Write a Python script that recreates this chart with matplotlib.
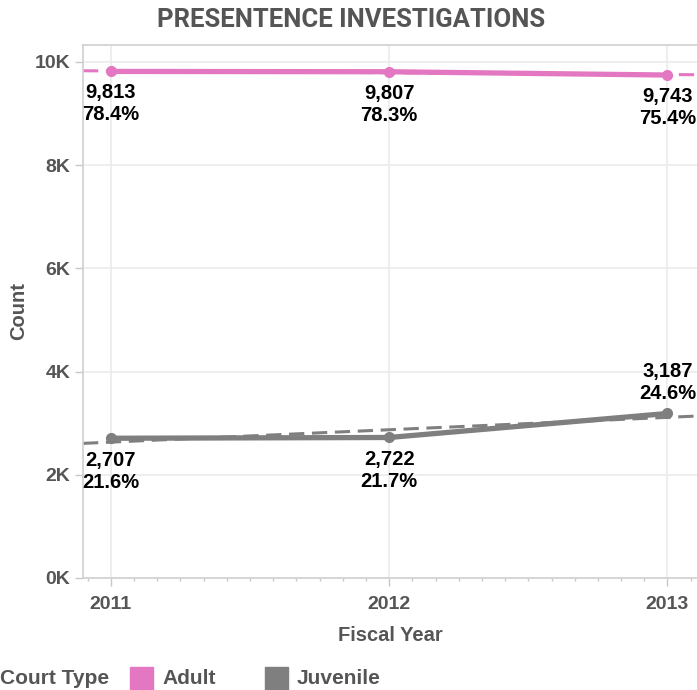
import numpy as np
import matplotlib
matplotlib.use("Agg")
import matplotlib.pyplot as plt
from matplotlib.ticker import FuncFormatter, MultipleLocator

# data
years = [2011, 2012, 2013]
adult = [9813, 9807, 9743]
juvenile = [2707, 2722, 3187]
adult_pct = ["78.4%", "78.3%", "75.4%"]
juvenile_pct = ["21.6%", "21.7%", "24.6%"]

PINK = "#e377c2"
GRAY = "#7f7f7f"
TXT = "#555555"

plt.rcParams["font.family"] = "Liberation Sans"
plt.rcParams["font.weight"] = "bold"

fig = plt.figure(figsize=(6.97, 6.9), dpi=100)
ax = fig.add_axes([83 / 697, 1 - 578 / 690, 1 - 83 / 697, (578 - 45) / 690])

xlim = (2010.9, 2013.106)
ax.set_xlim(*xlim)
ax.set_ylim(0, 10325)

# trend lines
for vals, col in [(adult, PINK), (juvenile, GRAY)]:
    k, b = np.polyfit(years, vals, 1)
    xs = np.array(xlim)
    ax.plot(xs, k * xs + b, color=col, lw=2.2, ls=(0, (5, 2.5)), zorder=2)

# main lines
ax.plot(years, adult, color=PINK, lw=3.8, marker="o", ms=7, zorder=3)
ax.plot(years, juvenile, color=GRAY, lw=3.8, marker="o", ms=7, zorder=3)

# labels
lab = dict(textcoords="offset pixels", ha="center", fontsize=14.5,
           fontweight="bold", color="black", linespacing=1.2, zorder=4)
for x, v, p in zip(years, adult, adult_pct):
    ax.annotate(f"{v:,}\n{p}", (x, v), xytext=(0, -12), va="top", **lab)
for i, (x, v, p) in enumerate(zip(years, juvenile, juvenile_pct)):
    if i == 2:
        ax.annotate(f"{v:,}\n{p}", (x, v), xytext=(0, 10), va="bottom", **lab)
    else:
        ax.annotate(f"{v:,}\n{p}", (x, v), xytext=(0, -13), va="top", **lab)

# axes styling
ax.set_xticks(years)
ax.set_xticklabels([str(y) for y in years])
ax.xaxis.set_minor_locator(MultipleLocator(1 / 12))
ax.set_yticks(np.arange(0, 10001, 2000))
ax.yaxis.set_major_formatter(FuncFormatter(lambda v, _: f"{int(v / 1000)}K"))
ax.grid(True, color="#ebebeb", lw=1.2, zorder=0)
ax.set_axisbelow(True)
ax.spines["right"].set_visible(False)
for s in ["left", "top", "bottom"]:
    ax.spines[s].set_color("#d0d0d0")
    ax.spines[s].set_linewidth(1.2)
ax.tick_params(axis="both", which="major", colors="#c8c8c8", labelcolor=TXT,
               labelsize=14, length=6, width=1)
ax.tick_params(axis="x", which="minor", colors="#c8c8c8", length=2, width=1)
ax.tick_params(axis="x", pad=7)
ax.tick_params(axis="y", pad=3)

ax.set_xlabel("Fiscal Year", fontsize=14.5, fontweight="bold", color=TXT, labelpad=9)
ax.set_ylabel("Count", fontsize=14.5, fontweight="bold", color=TXT, labelpad=5)

fig.text(351 / 697, 1 - 20 / 690, "PRESENTENCE INVESTIGATIONS", ha="center",
         va="center", fontsize=18.5, color=TXT, family="Roboto", fontweight="bold")

# legend
ly = 1 - 678 / 690
fig.text(0, ly, "Court Type", ha="left", va="center", fontsize=15,
         fontweight="bold", color=TXT)
for x0, col, name in [(130, PINK, "Adult"), (265, GRAY, "Juvenile")]:
    fig.patches.append(plt.Rectangle((x0 / 697, 0), 23 / 697, 23 / 690,
                                     transform=fig.transFigure, color=col))
    fig.text((x0 + 32) / 697, ly, name, ha="left", va="center", fontsize=15,
             fontweight="bold", color=TXT)

fig.savefig("out.png", dpi=100)
